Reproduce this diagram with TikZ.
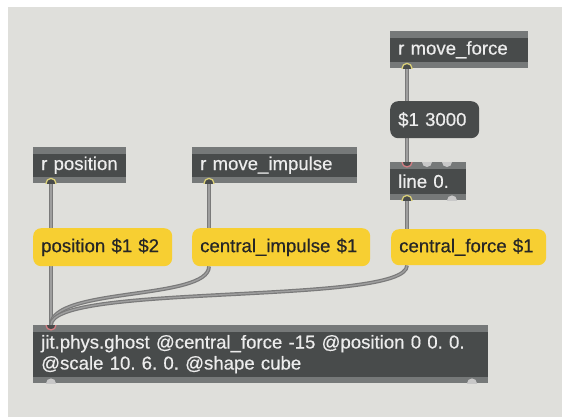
\documentclass[tikz,border=0pt]{standalone}
\usepackage{fontspec}
\setmainfont{Liberation Sans}[FakeBold=0.5]
\usetikzlibrary{calc}
\definecolor{bgc}{RGB}{223,223,219}
\definecolor{objdark}{RGB}{72,75,75}
\definecolor{band}{RGB}{118,121,121}
\definecolor{objtext}{RGB}{236,236,236}
\definecolor{msgyel}{RGB}{247,207,50}
\definecolor{msgtext}{RGB}{38,38,38}
\definecolor{cabout}{RGB}{122,122,122}
\definecolor{cabin}{RGB}{158,158,158}
\definecolor{portgray}{RGB}{200,200,200}
\definecolor{portyel}{RGB}{218,208,120}
\definecolor{portred}{RGB}{210,125,130}
\pgfdeclarelayer{bg}
\pgfdeclarelayer{cables}
\pgfsetlayers{bg,cables,main}
\newcommand\fs{\fontsize{18.6}{21}\selectfont\frenchspacing}
\newcommand\mxport[3]{\begin{scope}\clip (#1.south west) rectangle (#1.north east);
  \filldraw[#3] (#2) circle[radius=5pt];\end{scope}}
\tikzset{
  obj/.style={anchor=north west, fill=objdark, text=objtext, inner xsep=8pt, inner ysep=0pt,
    align=left, font=\fs,
    path picture={
      \fill[band] (path picture bounding box.north west) rectangle ([yshift=-7pt]path picture bounding box.north east);
      \fill[band] (path picture bounding box.south west) rectangle ([yshift=6pt]path picture bounding box.south east);}},
  msgd/.style={anchor=north west, fill=objdark, text=objtext, inner xsep=8pt, inner ysep=0pt,
    align=left, font=\fs, rounded corners=8pt},
  msgy/.style={anchor=north west, fill=msgyel, text=msgtext, inner xsep=8pt, inner ysep=0pt,
    align=left, font=\fs, rounded corners=8pt},
  cable/.style={draw=cabout, line width=1.2pt, double=cabin, double distance=1.4pt},
  freeport/.style={fill=portgray, draw=none},
  outon/.style={fill=objdark, draw=portyel, line width=1.3pt},
  inon/.style={fill=objdark, draw=portred, line width=1.3pt},
}
\begin{document}
\begin{tikzpicture}[x=1pt,y=-1pt]
\useasboundingbox (0,0) rectangle (562,417);
\begin{pgfonlayer}{bg}
  \fill[white] (0,0) rectangle (562,417);
  \fill[bgc] (8,7) rectangle (562,417);
\end{pgfonlayer}

% objects
\node[obj, text width=122pt, minimum height=37pt] (rmf) at (390,31) {r move\_force};
\node[msgd, text width=73pt, minimum height=37pt] (m3000) at (390,101) {\$1 3000};
\node[obj, text width=60pt, minimum height=38pt] (line) at (390,162) {line 0.};
\node[obj, text width=77pt, minimum height=36pt] (rpos) at (33,147) {r position};
\node[obj, text width=149pt, minimum height=36pt] (rmi) at (192,147) {r move\_impulse};
\node[msgy, text width=123pt, minimum height=38pt] (posm) at (33,228) {position \$1 \$2};
\node[msgy, text width=162pt, minimum height=38pt] (cimp) at (192,228) {central\_impulse \$1};
\node[msgy, text width=139pt, minimum height=36pt] (cfor) at (391,229) {central\_force \$1};
\node[obj, text width=439pt, minimum height=58pt] (jit) at (33,325)
  {jit.phys.ghost @central\_force -15 @position 0 0. 0.\\@scale 10. 6. 0. @shape cube};

% port coordinates
\coordinate (rmf-o) at ([xshift=17pt]rmf.south west);
\coordinate (m3000-i) at ([xshift=17pt]m3000.north west);
\coordinate (m3000-o) at ([xshift=17pt]m3000.south west);
\coordinate (line-i) at ([xshift=17pt]line.north west);
\coordinate (line-i2) at ([xshift=37pt]line.north west);
\coordinate (line-i3) at ([xshift=57pt]line.north west);
\coordinate (line-o) at ([xshift=17pt]line.south west);
\coordinate (line-o2) at ([xshift=62pt]line.south west);
\coordinate (cfor-i) at ([xshift=16pt]cfor.north west);
\coordinate (cfor-o) at ([xshift=16pt]cfor.south west);
\coordinate (rpos-o) at ([xshift=18pt]rpos.south west);
\coordinate (posm-i) at ([xshift=18pt]posm.north west);
\coordinate (posm-o) at ([xshift=18pt]posm.south west);
\coordinate (rmi-o) at ([xshift=17pt]rmi.south west);
\coordinate (cimp-i) at ([xshift=17pt]cimp.north west);
\coordinate (cimp-o) at ([xshift=17pt]cimp.south west);
\coordinate (jit-i) at ([xshift=18pt]jit.north west);
\coordinate (jit-o) at ([xshift=18pt]jit.south west);
\coordinate (jit-o2) at ([xshift=439pt]jit.south west);

% cables
\begin{pgfonlayer}{cables}
  \draw[cable] (rmf-o) -- (m3000-i);
  \draw[cable] (m3000-o) -- (line-i);
  \draw[cable] (line-o) -- (cfor-i);
  \draw[cable] (rpos-o) -- (posm-i);
  \draw[cable] (posm-o) -- (jit-i);
  \draw[cable] (rmi-o) -- (cimp-i);
  \draw[cable] (cimp-o) .. controls ($(cimp-o)+(0,34)$) and ($(jit-i)+(0,-38)$) .. (jit-i);
  \draw[cable] (cfor-o) .. controls ($(cfor-o)+(0,40)$) and ($(jit-i)+(0,-42)$) .. (jit-i);
\end{pgfonlayer}

% ports
\mxport{rmf}{rmf-o}{outon}
\mxport{line}{line-i}{inon}
\mxport{line}{line-i2}{freeport}
\mxport{line}{line-i3}{freeport}
\mxport{line}{line-o}{outon}
\mxport{line}{line-o2}{freeport}
\mxport{rpos}{rpos-o}{outon}
\mxport{rmi}{rmi-o}{outon}
\mxport{jit}{jit-i}{inon}
\mxport{jit}{jit-o}{freeport}
\mxport{jit}{jit-o2}{freeport}
\end{tikzpicture}
\end{document}
